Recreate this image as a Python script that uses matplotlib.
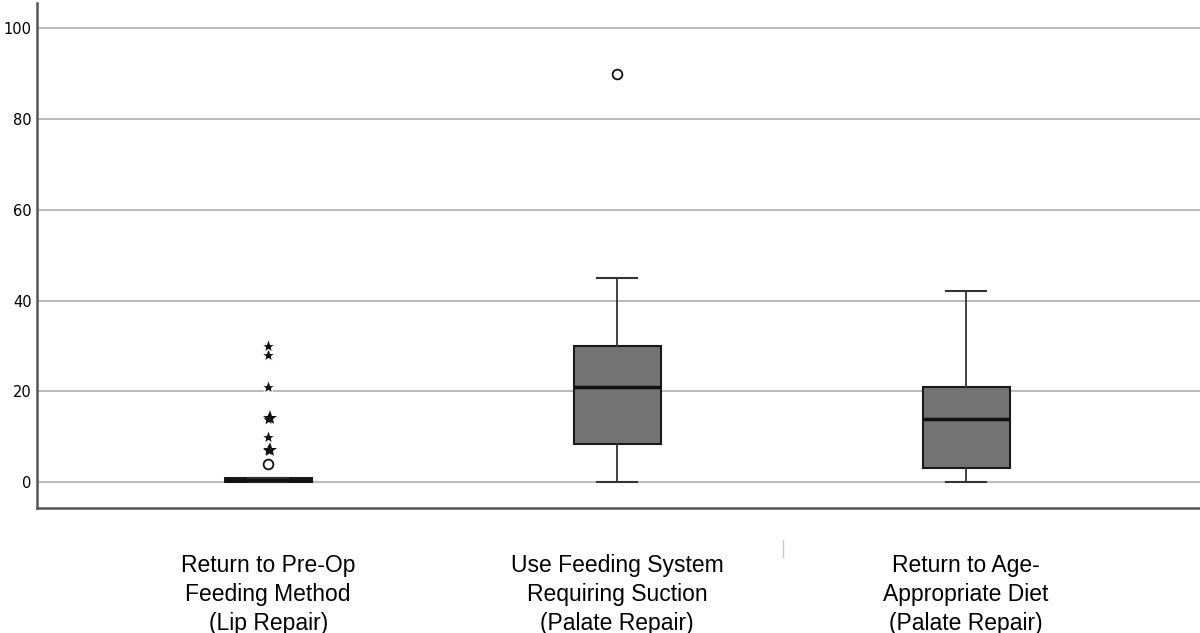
import matplotlib
matplotlib.use("Agg")
import matplotlib.pyplot as plt
from matplotlib.lines import Line2D

categories = ["Return to Pre-Op\nFeeding Method\n(Lip Repair)",
              "Use Feeding System\nRequiring Suction\n(Palate Repair)",
              "Return to Age-\nAppropriate Diet\n(Palate Repair)"]
whislo = [0, 0, 0]
q1 = [0, 8.5, 3]
med = [0.5, 21, 14]
q3 = [1, 30, 21]
whishi = [1, 45, 42]
outliers = [[4], [90], []]          # circles
extremes = [[7, 7, 10, 14, 14, 21, 28, 30], [], []]  # stars
yticks = [0, 20, 40, 60, 80, 100]

fig = plt.figure(figsize=(12, 6.33), dpi=100)
ax = fig.add_axes([0.031, 0.1975, 0.969, 0.7975])

for t in yticks:
    ax.axhline(t, color="#b4b4b4", lw=1.3, zorder=0)

stats = []
for i in range(3):
    stats.append(dict(whislo=whislo[i], q1=q1[i], med=med[i], q3=q3[i],
                      whishi=whishi[i], fliers=[]))
ax.bxp(stats, positions=[1, 2, 3], widths=0.25, patch_artist=True,
       showfliers=False,
       boxprops=dict(facecolor="#737373", edgecolor="#1a1a1a", linewidth=1.5),
       medianprops=dict(color="#111111", linewidth=2.5),
       whiskerprops=dict(color="#333333", linewidth=1.3),
       capprops=dict(color="#333333", linewidth=1.5),
       capwidths=0.115)

for i, vals in enumerate(outliers):
    if vals:
        ax.plot([i + 1] * len(vals), vals, linestyle="none", marker="o",
                markersize=7, markerfacecolor="white", markeredgecolor="#111111",
                markeredgewidth=1.3, zorder=5)
for i, vals in enumerate(extremes):
    seen = {}
    for v in vals:
        k = seen.get(v, 0)
        seen[v] = k + 1
        ax.plot(i + 1 + 0.004 * k, v + 0.1 * k, linestyle="none", marker="*",
                markersize=11, markerfacecolor="#111111", markeredgecolor="white",
                markeredgewidth=0.9 if k == 0 else 0.0, zorder=5)

ax.set_xlim(0.338, 3.67)
ax.set_ylim(-5.7, 105.5)
ax.set_yticks(yticks)
ax.set_yticklabels([str(t) for t in yticks], fontsize=10.5, family="DejaVu Sans")
ax.tick_params(axis="y", length=0, pad=4)
ax.set_xticks([1, 2, 3])
ax.set_xticklabels(categories, fontsize=16.5, family="Liberation Sans",
                   linespacing=1.33)
ax.tick_params(axis="x", length=0, pad=33)
for s in ["top", "right"]:
    ax.spines[s].set_visible(False)
for s in ["left", "bottom"]:
    ax.spines[s].set_color("#555555")
    ax.spines[s].set_linewidth(1.8)

fig.add_artist(Line2D([783 / 1200, 783 / 1200], [1 - 540 / 633, 1 - 557 / 633],
                      color="#c8c8c8", lw=1))

fig.savefig("out.png", dpi=100)
